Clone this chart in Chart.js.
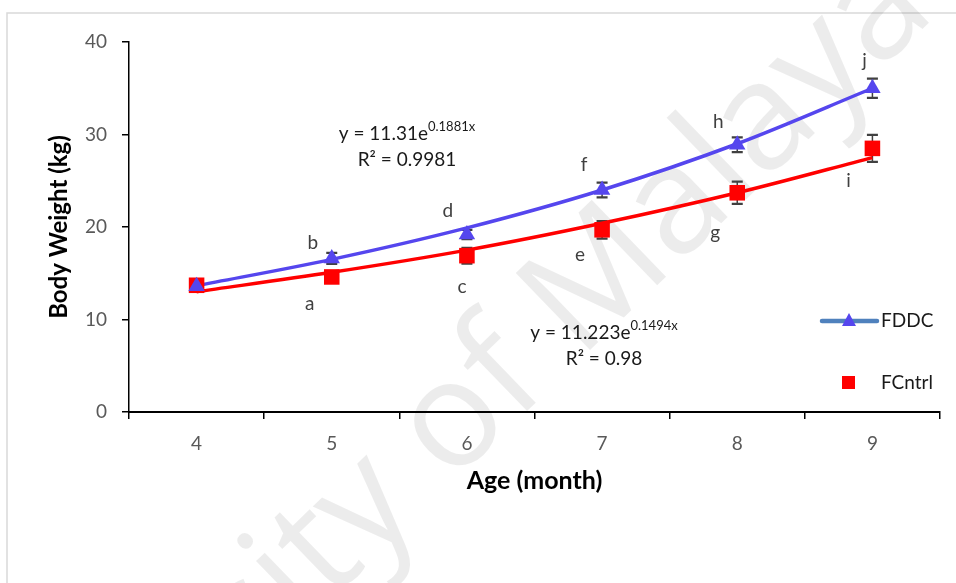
<!DOCTYPE html>
<html>
<head>
<meta charset="utf-8">
<script src="https://cdn.jsdelivr.net/npm/chart.js@4.4.0/dist/chart.umd.min.js"></script>
<style>
html,body{margin:0;padding:0;background:#fff;}
#wrap{width:956px;height:583px;position:relative;}
</style>
</head>
<body>
<div id="wrap"><canvas id="c" width="956" height="583"></canvas></div>
<script>
// ---- data ----
const ages = ['4', '5', '6', '7', '8', '9'];
const fddc = [13.6, 16.6, 19.2, 24.0, 28.9, 35.0];
const fddcErr = [0.3, 0.6, 0.5, 0.8, 0.8, 1.05];
const fcntrl = [13.7, 14.6, 16.9, 19.7, 23.7, 28.5];
const fcntrlErr = [0.4, 0.5, 0.85, 0.95, 1.2, 1.45];
const fddcTrend = [13.65, 16.5, 19.9, 24.0, 29.0, 35.0];
const fcntrlTrend = [13.0, 15.1, 17.5, 20.4, 23.7, 27.5];
const fddcLetters = ['', 'b', 'd', 'f', 'h', 'j'];
const fcntrlLetters = ['', 'a', 'c', 'e', 'g', 'i'];
const yMin = 0, yMax = 40, yStep = 10;
const eqFddc = ['y = 11.31e', '0.1881x', 'R² = 0.9981'];
const eqFcntrl = ['y = 11.223e', '0.1494x', 'R² = 0.98'];
const watermark = 'University of Malaya';

// ---- styling ----
const FONT = 'Lato, "Open Sans", sans-serif';
const BLUE = '#5546EE';
const RED = '#FF0000';
const LEG_BLUE = '#4F81BD';
const fddcLetterOff = [[0,0], [-19,-16], [-19,-24], [-18,-25], [-19,-23], [-8,-27]];
const fcntrlLetterOff = [[0,0], [-22,27], [-5,31], [-22,25], [-22,40], [-24,32]];

const framePlugin = {
  id: 'frame',
  beforeDraw(chart) {
    const ctx = chart.ctx;
    ctx.save();
    ctx.fillStyle = '#fff';
    ctx.fillRect(0, 0, chart.width, chart.height);
    ctx.strokeStyle = '#d9d9d9';
    ctx.lineWidth = 1.5;
    ctx.beginPath();
    ctx.moveTo(7, chart.height);
    ctx.lineTo(7, 13);
    ctx.lineTo(chart.width, 13);
    ctx.stroke();
    // watermark
    const th = -44 * Math.PI / 180;
    ctx.font = '150px "Open Sans", sans-serif';
    const w1 = ctx.measureText('University ').width;
    const wo = ctx.measureText('o').width;
    ctx.translate(455, 425);
    ctx.rotate(th);
    ctx.fillStyle = 'rgba(0,0,0,0.075)';
    ctx.textBaseline = 'alphabetic';
    ctx.textAlign = 'left';
    ctx.fillText(watermark, -(w1 + wo / 2), 40);
    ctx.restore();
  }
};

const errPlugin = {
  id: 'errbars',
  beforeDatasetsDraw(chart) {
    const {ctx, scales: {x, y}} = chart;
    ctx.save();
    ctx.strokeStyle = '#404040';
    [[fddc, fddcErr], [fcntrl, fcntrlErr]].forEach(([vals, errs]) => {
      vals.forEach((v, i) => {
        const px = x.getPixelForValue(i);
        const t = y.getPixelForValue(v + errs[i]);
        const b = y.getPixelForValue(v - errs[i]);
        ctx.lineWidth = 1.5;
        ctx.beginPath();
        ctx.moveTo(px, t); ctx.lineTo(px, b);
        ctx.stroke();
        ctx.lineWidth = 2.2;
        ctx.beginPath();
        ctx.moveTo(px - 5.5, t); ctx.lineTo(px + 5.5, t);
        ctx.moveTo(px - 5.5, b); ctx.lineTo(px + 5.5, b);
        ctx.stroke();
      });
    });
    ctx.restore();
  }
};

function drawEq(ctx, cx, cy, parts) {
  const mainF = '19px ' + FONT, supF = '13px ' + FONT;
  ctx.font = mainF;
  const w1 = ctx.measureText(parts[0]).width;
  ctx.font = supF;
  const w2 = ctx.measureText(parts[1]).width;
  const start = cx - (w1 + w2) / 2;
  ctx.textAlign = 'left';
  ctx.textBaseline = 'middle';
  ctx.font = mainF;
  ctx.fillText(parts[0], start, cy);
  ctx.font = supF;
  ctx.fillText(parts[1], start + w1, cy - 7);
  ctx.font = mainF;
  ctx.textAlign = 'center';
  ctx.fillText(parts[2], cx, cy + 26);
}

const annPlugin = {
  id: 'ann',
  afterDraw(chart) {
    const {ctx, scales: {x, y}} = chart;
    ctx.save();
    ctx.font = '19px ' + FONT;
    ctx.fillStyle = '#404040';
    ctx.textAlign = 'center';
    ctx.textBaseline = 'middle';
    fddcLetters.forEach((l, i) => {
      if (!l) return;
      ctx.fillText(l, x.getPixelForValue(i) + fddcLetterOff[i][0], y.getPixelForValue(fddc[i]) + fddcLetterOff[i][1]);
    });
    fcntrlLetters.forEach((l, i) => {
      if (!l) return;
      ctx.fillText(l, x.getPixelForValue(i) + fcntrlLetterOff[i][0], y.getPixelForValue(fcntrl[i]) + fcntrlLetterOff[i][1]);
    });
    ctx.fillStyle = '#1a1a1a';
    const ca = chart.chartArea;
    drawEq(ctx, ca.left + 278, ca.top + 92, eqFddc);
    drawEq(ctx, ca.left + 475, ca.top + 291, eqFcntrl);

    // legend
    const lx = ca.left + 720, ly1 = ca.top + 279, ly2 = ca.top + 341;
    ctx.strokeStyle = LEG_BLUE;
    ctx.lineWidth = 4.5;
    ctx.lineCap = 'round';
    ctx.beginPath();
    ctx.moveTo(lx - 27, ly1); ctx.lineTo(lx + 28, ly1);
    ctx.stroke();
    ctx.fillStyle = BLUE;
    ctx.beginPath();
    ctx.moveTo(lx, ly1 - 8); ctx.lineTo(lx + 7, ly1 + 5); ctx.lineTo(lx - 7, ly1 + 5); ctx.closePath();
    ctx.fill();
    ctx.fillStyle = RED;
    ctx.fillRect(lx - 7, ly2 - 7, 13, 13);
    ctx.fillStyle = '#1a1a1a';
    ctx.font = '19px ' + FONT;
    ctx.textAlign = 'left';
    ctx.fillText('FDDC', lx + 32, ly1);
    ctx.fillText('FCntrl', lx + 32, ly2);
    ctx.restore();
  }
};

new Chart(document.getElementById('c'), {
  type: 'line',
  data: {
    labels: ages,
    datasets: [
      {label: 'FDDC', data: fddc, showLine: false, pointStyle: 'triangle', pointRadius: 9.5, pointHoverRadius: 9.5,
       pointBackgroundColor: BLUE, pointBorderColor: BLUE, pointBorderWidth: 0, order: 0},
      {label: 'FCntrl', data: fcntrl, showLine: false, pointStyle: 'rect', pointRadius: 11, pointHoverRadius: 11,
       pointBackgroundColor: RED, pointBorderColor: RED, pointBorderWidth: 0, order: 0},
      {label: 'Expon. (FDDC)', data: fddcTrend, borderColor: BLUE, borderWidth: 3.5, pointRadius: 0,
       cubicInterpolationMode: 'monotone', fill: false, order: 1},
      {label: 'Expon. (FCntrl)', data: fcntrlTrend, borderColor: RED, borderWidth: 3.5, pointRadius: 0,
       cubicInterpolationMode: 'monotone', fill: false, order: 1}
    ]
  },
  options: {
    responsive: false,
    animation: false,
    layout: {padding: {left: 40, top: 42, right: 16, bottom: 87}},
    plugins: {legend: {display: false}, tooltip: {enabled: false}},
    scales: {
      x: {
        type: 'category',
        offset: true,
        grid: {offset: true, drawOnChartArea: false, drawTicks: true, tickLength: 7, color: '#000', lineWidth: 1.5},
        border: {color: '#000', width: 2},
        ticks: {color: '#595959', font: {family: FONT, size: 19}, padding: 13},
        title: {display: true, text: 'Age (month)', color: '#000', font: {family: FONT, size: 25, weight: 'bold'}, padding: 0},
        afterFit(s) { s.height = 84; }
      },
      y: {
        min: yMin, max: yMax,
        grid: {drawOnChartArea: false, drawTicks: true, tickLength: 7, color: '#000', lineWidth: 1.5},
        border: {color: '#000', width: 1.5},
        ticks: {stepSize: yStep, color: '#595959', font: {family: FONT, size: 19}, padding: 15},
        title: {display: true, text: 'Body Weight (kg)', color: '#000', font: {family: FONT, size: 24, weight: 'bold'}, padding: {top: 5, bottom: 0}},
        afterFit(s) { s.width = 89; }
      }
    }
  },
  plugins: [framePlugin, errPlugin, annPlugin]
});
</script>
</body>
</html>
